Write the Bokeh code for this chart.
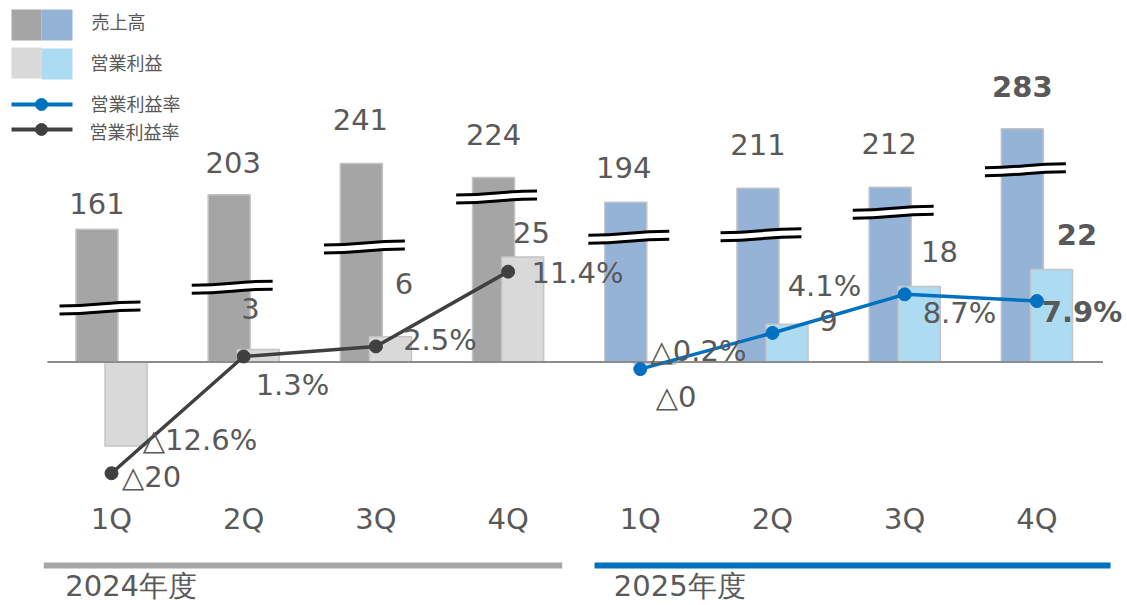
import numpy as np
from bokeh.plotting import figure
from bokeh.models import ColumnDataSource, Range1d, FixedTicker
from bokeh.layouts import column
from bokeh.embed import file_html
from bokeh.resources import INLINE
from bokeh.core.properties import value

# ---------------- data ----------------
quarters = ["1Q", "2Q", "3Q", "4Q", "1Q", "2Q", "3Q", "4Q"]
fiscal_years = ["2024年度", "2025年度"]
year_of = [0, 0, 0, 0, 1, 1, 1, 1]
sales = [161, 203, 241, 224, 194, 211, 212, 283]          # 売上高
op_profit = [-20, 3, 6, 25, -0.4, 9, 18, 22]               # 営業利益
op_margin = [-12.6, 1.3, 2.5, 11.4, -0.2, 4.1, 8.7, 7.9]   # 営業利益率 (%)
legend_names = ["売上高", "営業利益", "営業利益率", "営業利益率"]

# ---------------- style / layout ----------------
SALES_COL = ["#a5a5a5", "#95b3d7"]
PROFIT_COL = ["#d9d9d9", "#addcf2"]
LINE_COL = ["#404040", "#0070c0"]
YEAR_LINE_COL = ["#a6a6a6", "#0070c0"]
BAR_EDGE = "#c4c4c4"
TEXT_COL = "#595959"
LABEL_FONT = value("DejaVu Sans")
CJK_FONT = value("Noto Sans CJK JP")

W, H_MAIN, H_YEAR, FRAME_H = 1127, 548, 57, 494
CAT_PX, X0_PX = 132.2, 111.0
ZERO_PX, MARGIN_ZERO_PX = 361.5, 366.9
PROFIT_PPU, SALES_PPU, MARGIN_PPU = 4.2, 0.824, 8.4
SALES_DX, PROFIT_DX, BAR_W = -0.11, 0.11, 0.318

# axis-break marks on the sales bars (sales units), and shape
break_level = [65.5, 90.8, 139.6, 200.2, 151.5, 154.5, 181.8, 233.4]
BREAK_DX, BREAK_HALF_W, BREAK_RISE_PX, BREAK_GAP_PX = 0.023, 0.306, 4.0, 4.0

# label offsets (screen px, +x right, +y down)
sales_lbl_dx = [0, 4, -1, 0, -2, 0, -1, 0]
sales_lbl_dy = [-26, -32, -44, -43, -35, -44, -44, -42]
profit_lbl_dx = [25.5, -7.7, 13.6, 8.9, 21.2, 41.5, 20.3, 25.6]
profit_lbl_dy = [30.5, -40.9, -53.8, -25, 33.3, -3.7, -34.9, -35.1]
margin_lbl_dx = [88.5, 48.8, 64.1, 69.4, 58.2, 52, 54.8, 45.1]
margin_lbl_dy = [-33.7, 29, -6.9, 0.9, -17.6, -46.5, 18.2, 10.5]
bold_last = ["normal"] * 7 + ["bold"]

year_line_start = [-0.512, 3.654]
year_line_end = [3.409, 7.557]
year_label_x = [-0.35, 3.80]


def fmt_num(v):
    return ("△" if v < 0 else "") + f"{abs(v):.0f}"


def fmt_pct(v):
    return ("△" if v < 0 else "") + f"{abs(v):.1f}%"


idx = np.arange(len(quarters), dtype=float)
x_range = Range1d(-X0_PX / CAT_PX, (W - X0_PX) / CAT_PX)
y_range = Range1d(-(FRAME_H - ZERO_PX) / PROFIT_PPU, ZERO_PX / PROFIT_PPU)

p = figure(width=W, height=H_MAIN, x_range=x_range, y_range=y_range,
           output_backend="svg", toolbar_location=None, y_axis_location=None,
           min_border_left=0, min_border_right=0, min_border_top=0,
           min_border_bottom=H_MAIN - FRAME_H, outline_line_color=None,
           background_fill_color="white", border_fill_color="white")
p.extra_y_ranges = {
    "sales": Range1d(-(FRAME_H - ZERO_PX) / SALES_PPU, ZERO_PX / SALES_PPU),
    "margin": Range1d(-(FRAME_H - MARGIN_ZERO_PX) / MARGIN_PPU, MARGIN_ZERO_PX / MARGIN_PPU),
    "px": Range1d(FRAME_H, 0),
}
p.extra_x_ranges = {"px": Range1d(0, W)}
p.xgrid.visible = False
p.ygrid.visible = False

ax = p.xaxis[0]
ax.ticker = FixedTicker(ticks=list(range(len(quarters))))
ax.major_label_overrides = {i: q for i, q in enumerate(quarters)}
ax.axis_line_color = None
ax.major_tick_line_color = None
ax.minor_tick_line_color = None
ax.major_label_standoff = 1
ax.major_label_text_font = "DejaVu Sans"
ax.major_label_text_font_size = "29px"
ax.major_label_text_color = TEXT_COL

src = ColumnDataSource(dict(
    x=idx, xs=idx + SALES_DX, xp=idx + PROFIT_DX,
    sales=sales, profit=op_profit, margin=op_margin,
    sc=[SALES_COL[g] for g in year_of], pc=[PROFIT_COL[g] for g in year_of],
    st=[fmt_num(v) for v in sales], pt=[fmt_num(v) for v in op_profit],
    mt=[fmt_pct(v) for v in op_margin],
    sdx=sales_lbl_dx, sdy=sales_lbl_dy, pdx=profit_lbl_dx, pdy=profit_lbl_dy,
    mdx=margin_lbl_dx, mdy=margin_lbl_dy, fs=bold_last,
))

# bars
p.vbar(x="xs", width=BAR_W, top="sales", bottom=0, fill_color="sc",
       line_color=BAR_EDGE, line_width=1.5, y_range_name="sales", source=src)
p.vbar(x="xp", width=BAR_W, top="profit", bottom=0, fill_color="pc",
       line_color=BAR_EDGE, line_width=1.5, source=src)

# axis-break marks
bx = idx + SALES_DX + BREAK_DX
rise = BREAK_RISE_PX / SALES_PPU
gap = BREAK_GAP_PX / SALES_PPU
for off, color, lw in [(0.0, "white", 6), (gap, "black", 3.0), (-gap, "black", 3.0)]:
    y0 = np.array(break_level) - rise / 2 + off
    y1 = y0 + rise
    p.bezier(x0=bx - BREAK_HALF_W, y0=y0, x1=bx + BREAK_HALF_W, y1=y1,
             cx0=bx, cy0=y0, cx1=bx, cy1=y1,
             line_color=color, line_width=lw, y_range_name="sales")

# zero line
p.segment(x0=[-0.485], y0=[0], x1=[7.5], y1=[0], line_color="#8c8c8c", line_width=2)

# margin lines
for g in range(2):
    sel = [i for i in range(len(quarters)) if year_of[i] == g]
    xs = [idx[i] for i in sel]
    ys = [op_margin[i] for i in sel]
    p.line(x=xs, y=ys, line_color=LINE_COL[g], line_width=3.5, y_range_name="margin")
    p.scatter(x=xs, y=ys, size=13, fill_color=LINE_COL[g], line_color=LINE_COL[g],
              y_range_name="margin")

# data labels
common = dict(text_font=LABEL_FONT, text_font_size="29px", text_color=TEXT_COL,
              text_align="center", text_baseline="middle", text_font_style="fs", source=src)
p.text(x="xs", y="sales", text="st", x_offset="sdx", y_offset="sdy", y_range_name="sales", **common)
p.text(x="xp", y="profit", text="pt", x_offset="pdx", y_offset="pdy", **common)
p.text(x="x", y="margin", text="mt", x_offset="mdx", y_offset="mdy", y_range_name="margin", **common)

# legend (drawn in screen-pixel ranges)
p.quad(left=[11, 41, 11, 41], right=[41, 72, 41, 72], top=[9, 9, 47, 48], bottom=[40, 40, 78, 79],
       fill_color=[SALES_COL[0], SALES_COL[1], PROFIT_COL[0], PROFIT_COL[1]], line_color=None,
       x_range_name="px", y_range_name="px")
p.segment(x0=[11, 11], y0=[104, 129], x1=[72, 72], y1=[104, 129], line_color=[LINE_COL[1], LINE_COL[0]],
          line_width=4, x_range_name="px", y_range_name="px")
p.scatter(x=[41, 41], y=[104, 129], size=12, fill_color=[LINE_COL[1], LINE_COL[0]],
          line_color=[LINE_COL[1], LINE_COL[0]], x_range_name="px", y_range_name="px")
p.text(x=[91, 90, 90, 89], y=[20.5, 61, 102.5, 130.5], text=legend_names, text_font=CJK_FONT,
       text_font_size="18px", text_color=TEXT_COL, text_baseline="middle", text_align="left",
       x_range_name="px", y_range_name="px")

# fiscal-year bands
py = figure(width=W, height=H_YEAR, x_range=x_range, y_range=Range1d(H_YEAR, 0),
            output_backend="svg", toolbar_location=None, x_axis_location=None,
            y_axis_location=None, min_border=0, outline_line_color=None)
py.xgrid.visible = False
py.ygrid.visible = False
ysrc = ColumnDataSource(dict(x0=year_line_start, x1=year_line_end, y=[17, 17],
                             c=YEAR_LINE_COL, lx=year_label_x, ly=[37, 37], t=fiscal_years))
py.segment(x0="x0", y0="y", x1="x1", y1="y", line_color="c", line_width=6, source=ysrc)
py.text(x="lx", y="ly", text="t", text_font=LABEL_FONT, text_font_size="29px",
        text_color=TEXT_COL, text_align="left", text_baseline="middle", source=ysrc)

layout = column(p, py)
open("out.html", "w").write(file_html(layout, INLINE))
